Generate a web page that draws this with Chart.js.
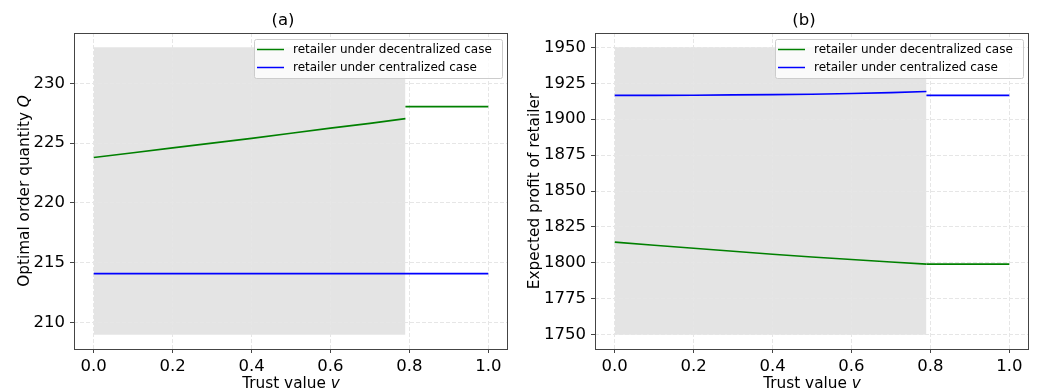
<!DOCTYPE html>
<html>
<head>
<meta charset="utf-8">
<script src="https://cdn.jsdelivr.net/npm/chart.js@4"></script>
<style>
  body { margin: 0; background: #fff; }
  #wrap { position: relative; width: 1037px; height: 391px; overflow: hidden; }
  canvas { position: absolute; top: 0; }
</style>
</head>
<body>
<div id="wrap">
  <canvas id="chartA" width="520" height="391" style="left:0"></canvas>
  <canvas id="chartB" width="517" height="391" style="left:520px"></canvas>
</div>
<script>
// Valores
const trustX = [0, 0.1, 0.2, 0.3, 0.4, 0.5, 0.6, 0.7, 0.79];
const trustTail = [0.79, 1.0];
const trustFull = [0, 1.0];
const shadeX = [0, 0.79];
const xTicks = [0, 0.2, 0.4, 0.6, 0.8, 1.0];

const qDecentral = [223.8, 224.2, 224.6, 225.0, 225.4, 225.82, 226.25, 226.65, 227.05];
const qDecentralTail = [228.05, 228.05];
const qCentral = [214.1, 214.1];
const qShade = [209, 233];
const qTicks = [210, 215, 220, 225, 230];

const profitDecentral = [1814.4, 1812.2, 1810.1, 1808.0, 1806.0, 1804.1, 1802.3, 1800.6, 1799.1];
const profitDecentralTail = [1799.1, 1799.1];
const profitCentral = [1916.6, 1916.6, 1916.7, 1916.9, 1917.1, 1917.4, 1917.9, 1918.5, 1919.3];
const profitCentralTail = [1916.6, 1916.6];
const profitShade = [1750, 1950];
const profitTicks = [1750, 1775, 1800, 1825, 1850, 1875, 1900, 1925, 1950];

const legendLabels = ["retailer under decentralized case", "retailer under centralized case"];
const GREEN = "#008000";
const BLUE = "#0000ff";
const FONT = '"DejaVu Sans", sans-serif';

const toPoints = (xs, ys) => xs.map((x, i) => ({ x, y: ys[i] }));

// Desenha texto com partes em itálico
function drawRuns(ctx, runs, size) {
  let total = 0;
  runs.forEach(r => {
    ctx.font = `${r.italic ? "italic " : ""}${size}px ${FONT}`;
    r.w = ctx.measureText(r.text).width;
    total += r.w;
  });
  let x = -total / 2;
  runs.forEach(r => {
    ctx.font = `${r.italic ? "italic " : ""}${size}px ${FONT}`;
    ctx.fillText(r.text, x, 0);
    x += r.w;
  });
}

const panelPlugin = {
  id: "panel",
  afterDatasetDraw(chart, args) {
    // grade por cima da faixa cinza
    if (!chart.data.datasets[args.index].isShade) return;
    chart.scales.x.drawGrid(chart.chartArea);
    chart.scales.y.drawGrid(chart.chartArea);
  },
  afterDraw(chart, args, opts) {
    const ctx = chart.ctx;
    const a = chart.chartArea;
    ctx.save();

    // moldura
    ctx.strokeStyle = "#444";
    ctx.lineWidth = 1;
    ctx.strokeRect(Math.round(a.left) + 0.5, Math.round(a.top) + 0.5,
      Math.round(a.right - a.left) - 1, Math.round(a.bottom - a.top));

    // legenda
    const w = 248, h = 39;
    const lx = a.right - 6 - w, ly = a.top + 6;
    ctx.beginPath();
    ctx.roundRect(lx + 0.5, ly + 0.5, w, h, 2);
    ctx.fillStyle = "rgba(255,255,255,0.8)";
    ctx.fill();
    ctx.strokeStyle = "#cccccc";
    ctx.stroke();
    [GREEN, BLUE].forEach((c, i) => {
      const yy = ly + 10.5 + i * 18;
      ctx.strokeStyle = c;
      ctx.lineWidth = 1.5;
      ctx.beginPath();
      ctx.moveTo(lx + 3, yy);
      ctx.lineTo(lx + 30, yy);
      ctx.stroke();
      ctx.fillStyle = "#000";
      ctx.font = `12px ${FONT}`;
      ctx.textBaseline = "middle";
      ctx.textAlign = "left";
      ctx.fillText(legendLabels[i], lx + 39, yy);
    });

    // títulos
    ctx.fillStyle = "#000";
    ctx.textBaseline = "alphabetic";
    ctx.textAlign = "left";
    const cx = (a.left + a.right) / 2;
    ctx.save();
    ctx.translate(cx - 8, 25);
    drawRuns(ctx, [{ text: opts.title }], 16.5);
    ctx.restore();

    ctx.save();
    ctx.translate(cx, 388);
    drawRuns(ctx, [{ text: "Trust value " }, { text: "v", italic: true }], 15.3);
    ctx.restore();

    ctx.save();
    ctx.translate(opts.yTitleX, (a.top + a.bottom) / 2);
    ctx.rotate(-Math.PI / 2);
    drawRuns(ctx, opts.yTitle, 15.3);
    ctx.restore();

    ctx.restore();
  }
};

function makeChart(id, cfg) {
  const line = (data, color) => ({
    data, borderColor: color, borderWidth: 1.6, pointRadius: 0, fill: false, order: 0, showLine: true
  });
  const datasets = [
    {
      isShade: true,
      data: toPoints(shadeX, [cfg.shade[1], cfg.shade[1]]),
      showLine: true, borderWidth: 0, borderColor: "rgba(0,0,0,0)",
      backgroundColor: "#e4e4e4", pointRadius: 0,
      fill: { value: cfg.shade[0] }, order: 10
    },
    line(toPoints(trustX, cfg.decentral), GREEN),
    line(toPoints(trustTail, cfg.decentralTail), GREEN),
    line(cfg.centralPts, BLUE)
  ];
  if (cfg.centralTail) datasets.push(line(toPoints(trustTail, cfg.centralTail), BLUE));

  return new Chart(document.getElementById(id), {
    type: "scatter",
    data: { datasets },
    options: {
      responsive: false,
      animation: false,
      devicePixelRatio: 1,
      layout: { padding: { top: 33, right: cfg.padRight, bottom: 0, left: 0 } },
      plugins: {
        legend: { display: false },
        tooltip: { enabled: false },
        panel: { title: cfg.title, yTitle: cfg.yTitle, yTitleX: cfg.yTitleX }
      },
      scales: {
        x: {
          type: "linear", min: -0.05, max: 1.05,
          afterBuildTicks: s => { s.ticks = xTicks.map(v => ({ value: v })); },
          afterFit: s => { s.height = 42; },
          ticks: { font: { family: FONT, size: 16.5 }, color: "#000", padding: 4, callback: v => v.toFixed(1) },
          grid: { color: "#e6e6e6", lineWidth: 1, tickLength: 4, tickColor: "#444", tickBorderDash: [] },
          border: { display: false, dash: [4, 2] }
        },
        y: {
          type: "linear", min: cfg.yMin, max: cfg.yMax,
          afterBuildTicks: s => { s.ticks = cfg.yTicks.map(v => ({ value: v })); },
          afterFit: s => { s.width = cfg.yWidth; },
          ticks: { font: { family: FONT, size: 16.5 }, color: "#000", padding: 5, callback: v => String(v) },
          grid: { color: "#e6e6e6", lineWidth: 1, tickLength: 4, tickColor: "#444", tickBorderDash: [] },
          border: { display: false, dash: [4, 2] }
        }
      }
    },
    plugins: [panelPlugin]
  });
}

makeChart("chartA", {
  title: "(a)",
  yTitle: [{ text: "Optimal order quantity " }, { text: "Q", italic: true }],
  yTitleX: 28.5,
  yWidth: 74, padRight: 12,
  yMin: 207.8, yMax: 234.2, yTicks: qTicks,
  shade: qShade,
  decentral: qDecentral, decentralTail: qDecentralTail,
  centralPts: toPoints(trustFull, qCentral)
});

makeChart("chartB", {
  title: "(b)",
  yTitle: [{ text: "Expected profit of retailer" }],
  yTitleX: 18.5,
  yWidth: 75, padRight: 8,
  yMin: 1740, yMax: 1960, yTicks: profitTicks,
  shade: profitShade,
  decentral: profitDecentral, decentralTail: profitDecentralTail,
  centralPts: toPoints(trustX, profitCentral), centralTail: profitCentralTail
});
</script>
</body>
</html>
